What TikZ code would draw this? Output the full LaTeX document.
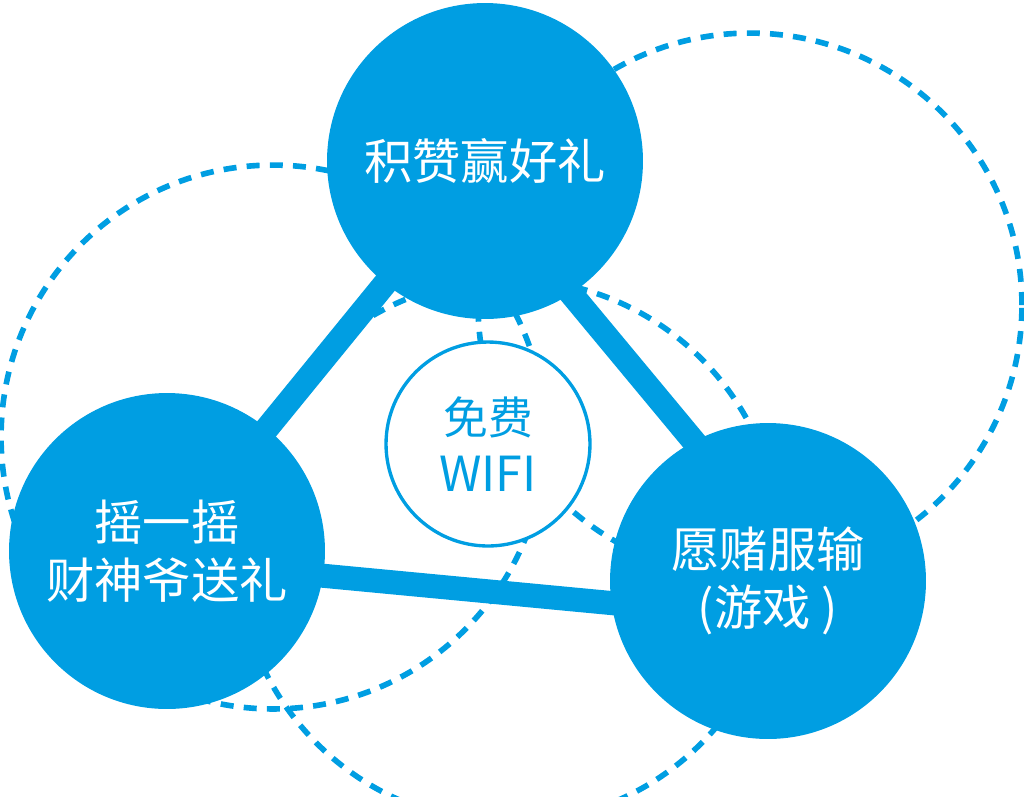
\documentclass[tikz,border=0pt]{standalone}
\usepackage{fontspec}
\setmainfont{Noto Sans CJK SC}
\usepackage{tikz}
\usetikzlibrary{positioning, backgrounds}

\definecolor{skyblue}{RGB}{0,158,226}

\begin{document}
\begin{tikzpicture}[x=0.02cm, y=-0.02cm,
        bigdot/.style={circle, fill=skyblue, inner sep=0pt, minimum size=6.32cm,
                    text=white, align=center, font=\fontsize{27.5}{33}\selectfont},
        hub/.style={circle, draw=skyblue, line width=1.9pt, fill=white, inner sep=0pt,
                    minimum size=4.08cm, text=skyblue, align=center, font=\fontsize{25.5}{30}\selectfont},
        band/.style={draw=skyblue, line width=13.7pt, shorten <=-12pt, shorten >=-12pt},
        ring/.style={draw=skyblue, line width=3.2pt, dash pattern=on 7.4pt off 5.8pt}]

        \useasboundingbox (0,0) rectangle (1024,796);

        \node[bigdot] (jizan)    at (485,161) {积赞赢好礼};
        \node[bigdot] (yaoyiyao) at (167,551) {摇一摇\\财神爷送礼};
        \node[bigdot] (yuandu)   at (768,581) {愿赌服输\\(游戏 )};
        \node[hub]    (wifi)     at (488,444) {免费\\[2pt]{\fontsize{27.5}{30}\selectfont WIFI}};

        \coordinate (ringA) at (750,305);
        \coordinate (ringB) at (273,437);
        \coordinate (ringC) at (509,551);

        \begin{scope}[on background layer]
            \clip (0,0) rectangle (1024,796);
            \draw[ring] (ringA) circle[radius=5.44cm];
            \draw[ring] (ringB) circle[radius=5.44cm];
            \draw[ring] (ringC) circle[radius=5.44cm];

            \draw[band] (jizan.center)   -- (yaoyiyao.center);
            \draw[band] (jizan.-57)      -- (yuandu.118);
            \draw[band] (yaoyiyao.-9.5)  -- (yuandu.188);
        \end{scope}
    \end{tikzpicture}
\end{document}
